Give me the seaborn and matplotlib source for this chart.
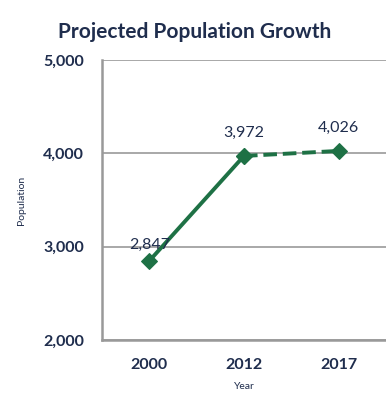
import matplotlib.pyplot as plt
import seaborn as sns
import pandas as pd

# chart data
years = ['2000', '2012', '2017']
population = [2847, 3972, 4026]
labels = ['2,847', '3,972', '4,026']

green = '#1e7145'
navy = '#1f2d4d'

df = pd.DataFrame({'pos': range(len(years)), 'Year': years, 'Population': population})

sns.set_style('white')
plt.rcParams['font.family'] = ['Lato', 'DejaVu Sans']

fig = plt.figure(figsize=(3.86, 4), dpi=100)
ax = fig.add_axes([0.264, 0.15, 0.736, 0.70])

# solid actual segment, dashed projected segment
sns.lineplot(data=df.iloc[0:2], x='pos', y='Population', color=green, lw=2.8,
             marker='D', markersize=8, markeredgecolor=green, ax=ax)
sns.lineplot(data=df.iloc[1:3], x='pos', y='Population', color=green, lw=2.8,
             linestyle=(0, (3.5, 1.5)), marker='D', markersize=8,
             markeredgecolor=green, ax=ax)

# data labels
ax.text(df.pos[0], df.Population[0] + 100, labels[0], ha='center', va='bottom',
        fontsize=11.5, color=navy)
for i in [1, 2]:
    ax.text(df.pos[i], df.Population[i] + 170, labels[i], ha='center', va='bottom',
            fontsize=11.5, color=navy)

ax.set_xlim(-0.5, 2.5)
ax.set_ylim(2000, 5000)
ax.set_yticks([2000, 3000, 4000, 5000])
ax.set_yticklabels([f'{v:,}' for v in [2000, 3000, 4000, 5000]],
                   fontsize=11.5, fontweight='bold', color=navy)
ax.set_xticks(df.pos)
ax.set_xticklabels(years, fontsize=11.5, fontweight='bold', color=navy)
ax.set_xticks([-0.5, 0.5, 1.5, 2.5], minor=True)
ax.tick_params(axis='x', which='major', length=0, pad=13)
ax.tick_params(axis='x', which='minor', length=5, color='#999999', width=1.2)
ax.tick_params(axis='y', length=6, color='#999999', width=1.2, pad=7)

ax.grid(axis='y', color='#999999', lw=1.2)
sns.despine(ax=ax, top=True, right=True)
for s in ['left', 'bottom']:
    ax.spines[s].set_color('#999999')
    ax.spines[s].set_linewidth(1.8)

ax.set_xlabel('Year', fontsize=7.5, color=navy, labelpad=7)
ax.set_ylabel('Population', fontsize=7.5, color=navy, labelpad=12)

fig.text(0.505, 0.92, 'Projected Population Growth', ha='center', va='center',
         fontsize=15, fontweight='bold', color=navy)

fig.savefig('out.png', dpi=100)
